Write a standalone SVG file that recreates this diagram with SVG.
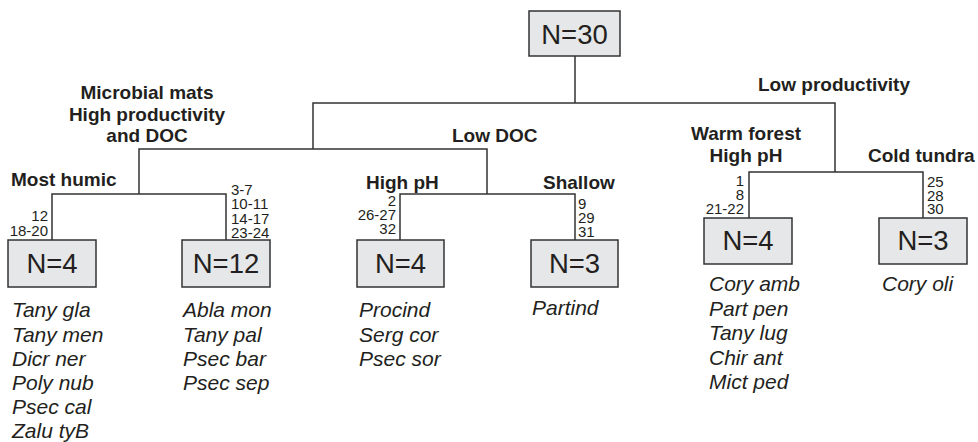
<svg xmlns="http://www.w3.org/2000/svg" width="978" height="442" viewBox="0 0 978 442">
<style>
.ln{stroke:#333;stroke-width:1.5;fill:none}
.box{fill:#e6e7e8;stroke:#333;stroke-width:1.5}
.n{font-family:"Liberation Sans",Arial,sans-serif;font-size:27.5px;fill:#231f20;text-anchor:middle}
.lab{font-family:"Liberation Sans",Arial,sans-serif;font-size:19px;font-weight:bold;fill:#231f20}
.num{font-family:"Liberation Sans",Arial,sans-serif;font-size:15px;fill:#231f20}
.sp{font-family:"Liberation Sans",Arial,sans-serif;font-size:21px;font-style:italic;fill:#231f20}
</style>
<rect width="978" height="442" fill="#fff"/>
<g id="connectors">
<path class="ln" d="M575,56V103M313,149V103H835V172"/>
<path class="ln" d="M139,194V149H487V194"/>
<path class="ln" d="M52,240V194H226V240"/>
<path class="ln" d="M400,240V194H575V240"/>
<path class="ln" d="M749,218V172H923V218"/>
</g>
<g id="root">
<rect class="box" x="529" y="11" width="91" height="45"/>
<text class="n" x="574.5" y="44">N=30</text>
</g>
<g id="labels">
<text class="lab" text-anchor="middle" x="147" y="99">Microbial mats</text>
<text class="lab" text-anchor="middle" x="147" y="120.5">High productivity</text>
<text class="lab" text-anchor="middle" x="147" y="142">and DOC</text>
<text class="lab" x="452" y="142">Low DOC</text>
<text class="lab" x="758" y="91">Low productivity</text>
<text class="lab" text-anchor="middle" x="746" y="140">Warm forest</text>
<text class="lab" text-anchor="middle" x="746" y="162">High pH</text>
<text class="lab" x="868" y="162">Cold tundra</text>
<text class="lab" x="11" y="186">Most humic</text>
<text class="lab" x="366" y="189">High pH</text>
<text class="lab" x="543" y="189">Shallow</text>
</g>
<g id="node1">
<text class="num" text-anchor="end" x="48" y="221">12</text>
<text class="num" text-anchor="end" x="48" y="236">18-20</text>
<rect class="box" x="8" y="240" width="88" height="47"/>
<text class="n" x="52" y="273">N=4</text>
<text class="sp" x="12" y="317">Tany gla</text>
<text class="sp" x="12" y="341.5">Tany men</text>
<text class="sp" x="12" y="366">Dicr ner</text>
<text class="sp" x="12" y="390">Poly nub</text>
<text class="sp" x="12" y="414">Psec cal</text>
<text class="sp" x="12" y="438">Zalu tyB</text>
</g>
<g id="node2">
<text class="num" x="231" y="194.5">3-7</text>
<text class="num" x="231" y="209">10-11</text>
<text class="num" x="231" y="223.5">14-17</text>
<text class="num" x="231" y="237.5">23-24</text>
<rect class="box" x="182" y="240" width="88" height="47"/>
<text class="n" x="226" y="273">N=12</text>
<text class="sp" x="183" y="317">Abla mon</text>
<text class="sp" x="183" y="341.5">Tany pal</text>
<text class="sp" x="183" y="366">Psec bar</text>
<text class="sp" x="183" y="390">Psec sep</text>
</g>
<g id="node3">
<text class="num" text-anchor="end" x="396" y="206">2</text>
<text class="num" text-anchor="end" x="396" y="220">26-27</text>
<text class="num" text-anchor="end" x="396" y="233.5">32</text>
<rect class="box" x="357" y="240" width="87" height="47"/>
<text class="n" x="400.5" y="273">N=4</text>
<text class="sp" x="359" y="317">Procind</text>
<text class="sp" x="359" y="341.5">Serg cor</text>
<text class="sp" x="359" y="366">Psec sor</text>
</g>
<g id="node4">
<text class="num" x="578" y="209">9</text>
<text class="num" x="578" y="223">29</text>
<text class="num" x="578" y="237">31</text>
<rect class="box" x="531" y="240" width="87" height="47"/>
<text class="n" x="574.5" y="273">N=3</text>
<text class="sp" x="532" y="315">Partind</text>
</g>
<g id="node5">
<text class="num" text-anchor="end" x="744" y="186">1</text>
<text class="num" text-anchor="end" x="744" y="199.5">8</text>
<text class="num" text-anchor="end" x="744" y="214">21-22</text>
<rect class="box" x="704" y="218" width="88" height="46"/>
<text class="n" x="748" y="250">N=4</text>
<text class="sp" x="709" y="291">Cory amb</text>
<text class="sp" x="709" y="315.5">Part pen</text>
<text class="sp" x="709" y="340">Tany lug</text>
<text class="sp" x="709" y="364.5">Chir ant</text>
<text class="sp" x="709" y="389">Mict ped</text>
</g>
<g id="node6">
<text class="num" x="927" y="187">25</text>
<text class="num" x="927" y="200.5">28</text>
<text class="num" x="927" y="214">30</text>
<rect class="box" x="879" y="218" width="88" height="46"/>
<text class="n" x="923" y="250">N=3</text>
<text class="sp" x="882" y="291">Cory oli</text>
</g>
</svg>
